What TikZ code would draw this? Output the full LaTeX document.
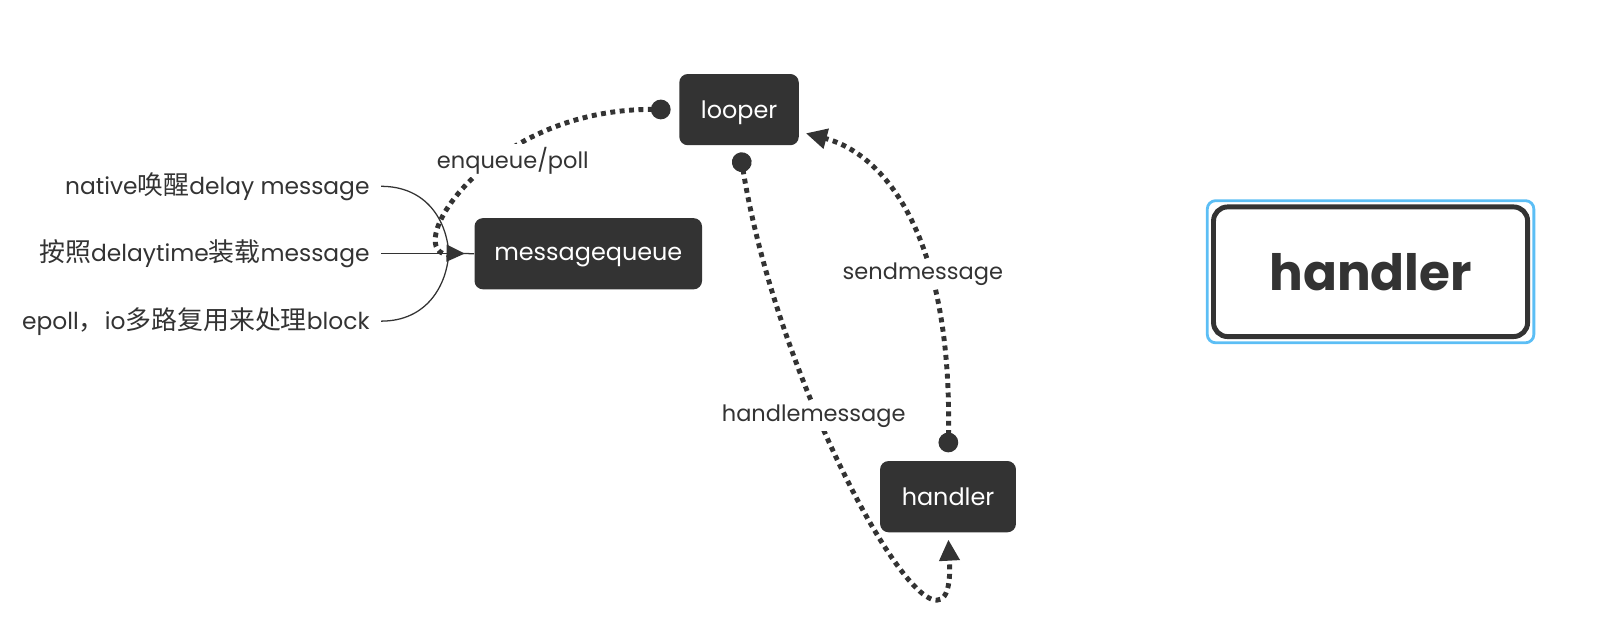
\documentclass[tikz,border=0pt]{standalone}
\usepackage{fontspec}
\setmainfont{Poppins}
\newfontfamily\cjk[Scale=1.11]{Noto Sans CJK SC}
\usetikzlibrary{arrows.meta,fit,decorations.markings}
\definecolor{ink}{HTML}{333333}
\definecolor{sel}{HTML}{5CBEF5}
\tikzset{
    main/.style = {fill=ink, text=white, rounded corners=6pt, minimum height=1.78cm, text depth=0pt, font=\fontsize{17}{20}\selectfont},
    flow/.style = {ink, line width=3.5pt, dash pattern=on 3.5pt off 3.2pt},
    lab/.style = {fill=white, text=ink, inner sep=2pt, font=\fontsize{16}{18}\selectfont},
    wire/.style = {ink, line width=0.9pt},
    note/.style = {anchor=east, text=ink, inner sep=2pt, font=\fontsize{16.6}{19}\selectfont}
}
\begin{document}
\begin{tikzpicture}[x=0.02573cm, y=-0.02573cm]
    \useasboundingbox (0,0) rectangle (1568,620);

    \node[main, minimum width=2.985cm] (1) at (718,106.5) {looper};
    \node[main, minimum width=5.686cm] (2) at (571.5,246.5) {messagequeue};
    \node[main, minimum width=3.396cm] (3) at (921,482.5) {handler};
    \node[draw=ink, line width=3.5pt, rounded corners=10pt, minimum width=7.85cm, minimum height=3.24cm, text=ink, font=\bfseries\fontsize{35.6}{38}\selectfont] (4) at (1331.5,264) {handler};
    \node[fit=(4), draw=sel, line width=2pt, rounded corners=6pt, inner sep=2.7pt] (5) {};

    \node[note] (6) at (362,181) {native{\cjk 唤醒}delay message};
    \node[note] (7) at (362,246) {{\cjk 按照}delaytime{\cjk 装载}message};
    \node[note] (8) at (362,312) {epoll{\cjk ，}io{\cjk 多路复用来处理}block};
    \coordinate (9) at (436,246);

    \draw[flow, -{Circle[length=14pt]}, shorten <=16pt, shorten >=6pt] (2.west) .. controls (385,250) and (470,105) .. node[lab, pos=0.6, xshift=9pt] {enqueue/poll} (1.west);
    \draw[flow, {Circle[length=14pt]}-{Triangle[length=15pt,width=14pt]}, shorten <=5pt, shorten >=5pt] (1.south) .. controls (760,400) and (930,690) .. node[lab, pos=0.35, xshift=-4pt, yshift=-1pt] {handlemessage} (3.south);
    \draw[flow, {Circle[length=14pt]}-{Triangle[length=15pt,width=14pt]}, shorten <=6pt, shorten >=5pt] (3.north) .. controls (925,230) and (860,150) .. node[lab, pos=0.35, xshift=-4pt] {sendmessage} (1.-20);

    \draw[wire, shorten <=6pt] (6.east) .. controls (415,181) and (434,215) .. (9);
    \draw[wire, shorten <=6pt] (7.east) -- (9);
    \draw[wire, shorten <=6pt] (8.east) .. controls (415,312) and (434,277) .. (9);
    \draw[wire, postaction={decorate}, decoration={markings, mark=at position 0.63 with {\arrow{Triangle[length=13pt,width=12pt]}}}] (9) -- (2.west);
\end{tikzpicture}
\end{document}
